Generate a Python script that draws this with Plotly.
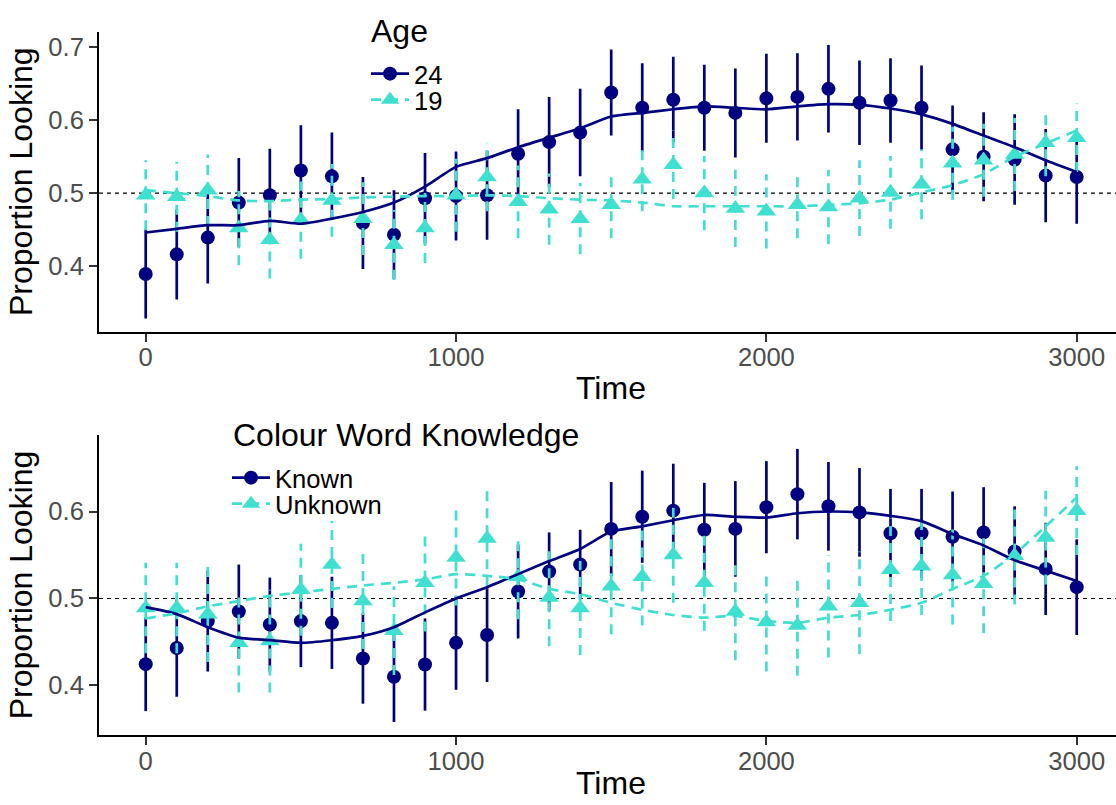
import plotly.graph_objects as go

# ---------------- data ----------------
time = list(range(0, 3001, 100))

# Top panel: Age
age24_mean = [0.389, 0.416, 0.439, 0.487, 0.497, 0.531, 0.523, 0.459, 0.443, 0.493, 0.496,
              0.497, 0.554, 0.570, 0.583, 0.638, 0.617, 0.628, 0.617, 0.610, 0.630,
              0.632, 0.643, 0.624, 0.627, 0.617, 0.560, 0.550, 0.546, 0.524, 0.522]
age24_se = [0.061, 0.062, 0.063, 0.061, 0.064, 0.062, 0.060, 0.063, 0.061, 0.062, 0.061,
            0.061, 0.061, 0.062, 0.060, 0.059, 0.061, 0.059, 0.059, 0.061, 0.061,
            0.060, 0.060, 0.058, 0.058, 0.058, 0.060, 0.061, 0.062, 0.064, 0.064]
age24_smooth = [0.446, 0.451, 0.456, 0.456, 0.462, 0.458, 0.465, 0.474, 0.487, 0.509, 0.536,
                0.548, 0.563, 0.576, 0.589, 0.605, 0.610, 0.615, 0.619, 0.617, 0.615,
                0.619, 0.622, 0.621, 0.616, 0.608, 0.595, 0.579, 0.563, 0.545, 0.529]

age19_mean = [0.497, 0.495, 0.504, 0.452, 0.436, 0.463, 0.490, 0.465, 0.429, 0.452, 0.497,
              0.522, 0.488, 0.478, 0.465, 0.484, 0.519, 0.539, 0.500, 0.479, 0.475,
              0.484, 0.481, 0.493, 0.501, 0.512, 0.541, 0.545, 0.553, 0.569, 0.576]
age19_se = [0.048, 0.048, 0.049, 0.051, 0.053, 0.053, 0.050, 0.050, 0.048, 0.048, 0.050,
            0.047, 0.050, 0.049, 0.049, 0.046, 0.044, 0.047, 0.051, 0.053, 0.051,
            0.046, 0.051, 0.052, 0.050, 0.048, 0.050, 0.050, 0.050, 0.046, 0.047]
age19_smooth = [0.504, 0.500, 0.496, 0.490, 0.489, 0.491, 0.492, 0.494, 0.495, 0.496, 0.496,
                0.497, 0.496, 0.493, 0.491, 0.490, 0.487, 0.482, 0.482, 0.482, 0.482,
                0.482, 0.484, 0.486, 0.491, 0.501, 0.511, 0.526, 0.550, 0.568, 0.586]

# Bottom panel: Colour Word Knowledge
known_mean = [0.4245, 0.443, 0.474, 0.485, 0.470, 0.474, 0.472, 0.431, 0.410, 0.424, 0.449,
              0.458, 0.508, 0.531, 0.539, 0.580, 0.594, 0.601, 0.579, 0.580, 0.605,
              0.620, 0.606, 0.599, 0.575, 0.575, 0.571, 0.576, 0.554, 0.534, 0.513]
known_se = [0.054, 0.056, 0.058, 0.054, 0.054, 0.053, 0.053, 0.052, 0.052, 0.053, 0.054,
            0.054, 0.054, 0.045, 0.040, 0.054, 0.053, 0.054, 0.054, 0.055, 0.053,
            0.052, 0.051, 0.051, 0.051, 0.051, 0.052, 0.052, 0.052, 0.053, 0.055]
known_smooth = [0.490, 0.482, 0.467, 0.455, 0.452, 0.449, 0.452, 0.457, 0.467, 0.484, 0.500,
                0.513, 0.528, 0.543, 0.557, 0.577, 0.583, 0.590, 0.596, 0.594, 0.593,
                0.598, 0.600, 0.599, 0.595, 0.589, 0.574, 0.561, 0.544, 0.532, 0.520]

unknown_mean = [0.489, 0.489, 0.482, 0.449, 0.451, 0.510, 0.539, 0.497, 0.463, 0.518, 0.547,
                0.569, 0.525, 0.501, 0.489, 0.514, 0.525, 0.550, 0.518, 0.485, 0.473,
                0.469, 0.491, 0.495, 0.533, 0.537, 0.527, 0.517, 0.549, 0.570, 0.601]
unknown_se = [0.052, 0.052, 0.055, 0.057, 0.059, 0.053, 0.050, 0.055, 0.051, 0.056, 0.055,
              0.055, 0.049, 0.056, 0.054, 0.055, 0.056, 0.055, 0.055, 0.056, 0.057,
              0.058, 0.059, 0.059, 0.059, 0.056, 0.057, 0.057, 0.056, 0.054, 0.051]
unknown_smooth = [0.477, 0.483, 0.491, 0.497, 0.503, 0.507, 0.511, 0.515, 0.518, 0.522, 0.528,
                  0.526, 0.522, 0.511, 0.505, 0.495, 0.487, 0.481, 0.478, 0.480, 0.474,
                  0.472, 0.478, 0.481, 0.487, 0.495, 0.511, 0.526, 0.551, 0.583, 0.616]

x_ticks = [0, 1000, 2000, 3000]
y_ticks_top = [0.4, 0.5, 0.6, 0.7]
y_ticks_bottom = [0.4, 0.5, 0.6]

NAVY = "#000080"
TURQ = "#40E0D0"
FONT = "Liberation Sans, Arial, sans-serif"
LW = 2.7
DASH = "10px,7px"
W, H = 1116, 805


def segments(t, m, s):
    xs, ys = [], []
    for ti, mi, si in zip(t, m, s):
        xs += [ti, ti, None]
        ys += [mi - si, mi + si, None]
    return xs, ys


fig = go.Figure()


def add_panel(groups, xa, ya):
    # pointranges (error bar + point)
    for (mean, se, smooth, color, symbol, msize, dash) in groups:
        xs, ys = segments(time, mean, se)
        fig.add_trace(go.Scatter(x=xs, y=ys, mode="lines", xaxis=xa, yaxis=ya,
                                 line=dict(color=color, width=LW, dash=dash),
                                 showlegend=False, hoverinfo="skip"))
        fig.add_trace(go.Scatter(x=time, y=mean, mode="markers", xaxis=xa, yaxis=ya,
                                 marker=dict(color=color, symbol=symbol, size=msize, line=dict(width=0)),
                                 showlegend=False))
    # smoothed lines
    for (mean, se, smooth, color, symbol, msize, dash) in groups:
        fig.add_trace(go.Scatter(x=time, y=smooth, mode="lines", xaxis=xa, yaxis=ya,
                                 line=dict(color=color, width=LW, dash=dash, shape="spline", smoothing=0.6),
                                 showlegend=False))


add_panel([(age24_mean, age24_se, age24_smooth, NAVY, "circle", 14, "solid"),
           (age19_mean, age19_se, age19_smooth, TURQ, "triangle-up", 17, DASH)], "x", "y")
add_panel([(known_mean, known_se, known_smooth, NAVY, "circle", 14, "solid"),
           (unknown_mean, unknown_se, unknown_smooth, TURQ, "triangle-up", 17, DASH)], "x2", "y2")

# legend entries (one legend per entry for precise ggplot-like spacing)
legend_items = [
    ("24", NAVY, "circle", 14, "solid", "legend"),
    ("19", TURQ, "triangle-up", 17, DASH, "legend3"),
    ("Known", NAVY, "circle", 14, "solid", "legend2"),
    ("Unknown", TURQ, "triangle-up", 17, DASH, "legend4"),
]
for name, color, symbol, msize, dash, lg in legend_items:
    fig.add_trace(go.Scatter(x=[None], y=[None], mode="lines+markers", name=name, legend=lg,
                             line=dict(color=color, width=LW, dash=dash),
                             marker=dict(color=color, symbol=symbol, size=msize)))

# reference lines at 0.5
for yref, xref in (("y", "x domain"), ("y2", "x2 domain")):
    fig.add_shape(type="line", xref=xref, yref=yref, x0=0, x1=1, y0=0.5, y1=0.5,
                  line=dict(color="black", width=1.2, dash="4px,4px"), layer="below")

# legend titles and x-axis titles
for text, px, py in (("Age", 369, 31), ("Colour Word Knowledge", 231, 435)):
    fig.add_annotation(text=text, xref="paper", yref="paper", x=(px - 99) / 1017, y=1 - py / H,
                       xanchor="left", yanchor="middle", showarrow=False,
                       font=dict(family=FONT, size=32, color="black"))
for py in (388, 783):
    fig.add_annotation(text="Time", xref="paper", yref="paper", x=(611 - 99) / 1017, y=1 - py / H,
                       xanchor="center", yanchor="middle", showarrow=False,
                       font=dict(family=FONT, size=32, color="black"))

axis_common = dict(showline=True, linecolor="black", linewidth=2, showgrid=False, zeroline=False,
                   ticks="outside", ticklen=8, tickwidth=2, tickcolor="#333333",
                   tickfont=dict(family=FONT, size=25.6, color="#4D4D4D"), automargin=False)
xaxis_common = dict(axis_common, ticklabelstandoff=-6)


def legend_at(px, py):
    return dict(font=dict(family=FONT, size=25.6, color="black"),
                x=(px - 99) / 1017, xanchor="left", y=1 - py / H, yanchor="middle",
                bgcolor="rgba(0,0,0,0)", itemwidth=38, tracegroupgap=0)


xr = [-150.5, 3126.6]
ytitle = lambda: dict(text="Proportion Looking", font=dict(family=FONT, size=32, color="black"), standoff=6)
fig.update_layout(
    width=W, height=H, margin=dict(l=99, r=0, t=0, b=0),
    paper_bgcolor="white", plot_bgcolor="white",
    font=dict(family=FONT, color="black"),
    xaxis=dict(domain=[0, 1], anchor="y", range=xr, tickvals=x_ticks, **xaxis_common),
    yaxis=dict(domain=[1 - 331.7 / H, 1 - 31.7 / H], anchor="x", range=[0.3099, 0.7214],
               tickvals=y_ticks_top, ticktext=[f"{v:.1f}" for v in y_ticks_top],
               title=ytitle(), **axis_common),
    xaxis2=dict(domain=[0, 1], anchor="y2", range=xr, tickvals=x_ticks, **xaxis_common),
    yaxis2=dict(domain=[1 - 735 / H, 1 - 435 / H], anchor="x2", range=[0.343, 0.688],
                tickvals=y_ticks_bottom, ticktext=[f"{v:.1f}" for v in y_ticks_bottom],
                title=ytitle(), **axis_common),
    legend=legend_at(366, 74),
    legend3=legend_at(366, 100),
    legend2=legend_at(227, 478),
    legend4=legend_at(227, 504),
)

fig.write_html("out.html")
